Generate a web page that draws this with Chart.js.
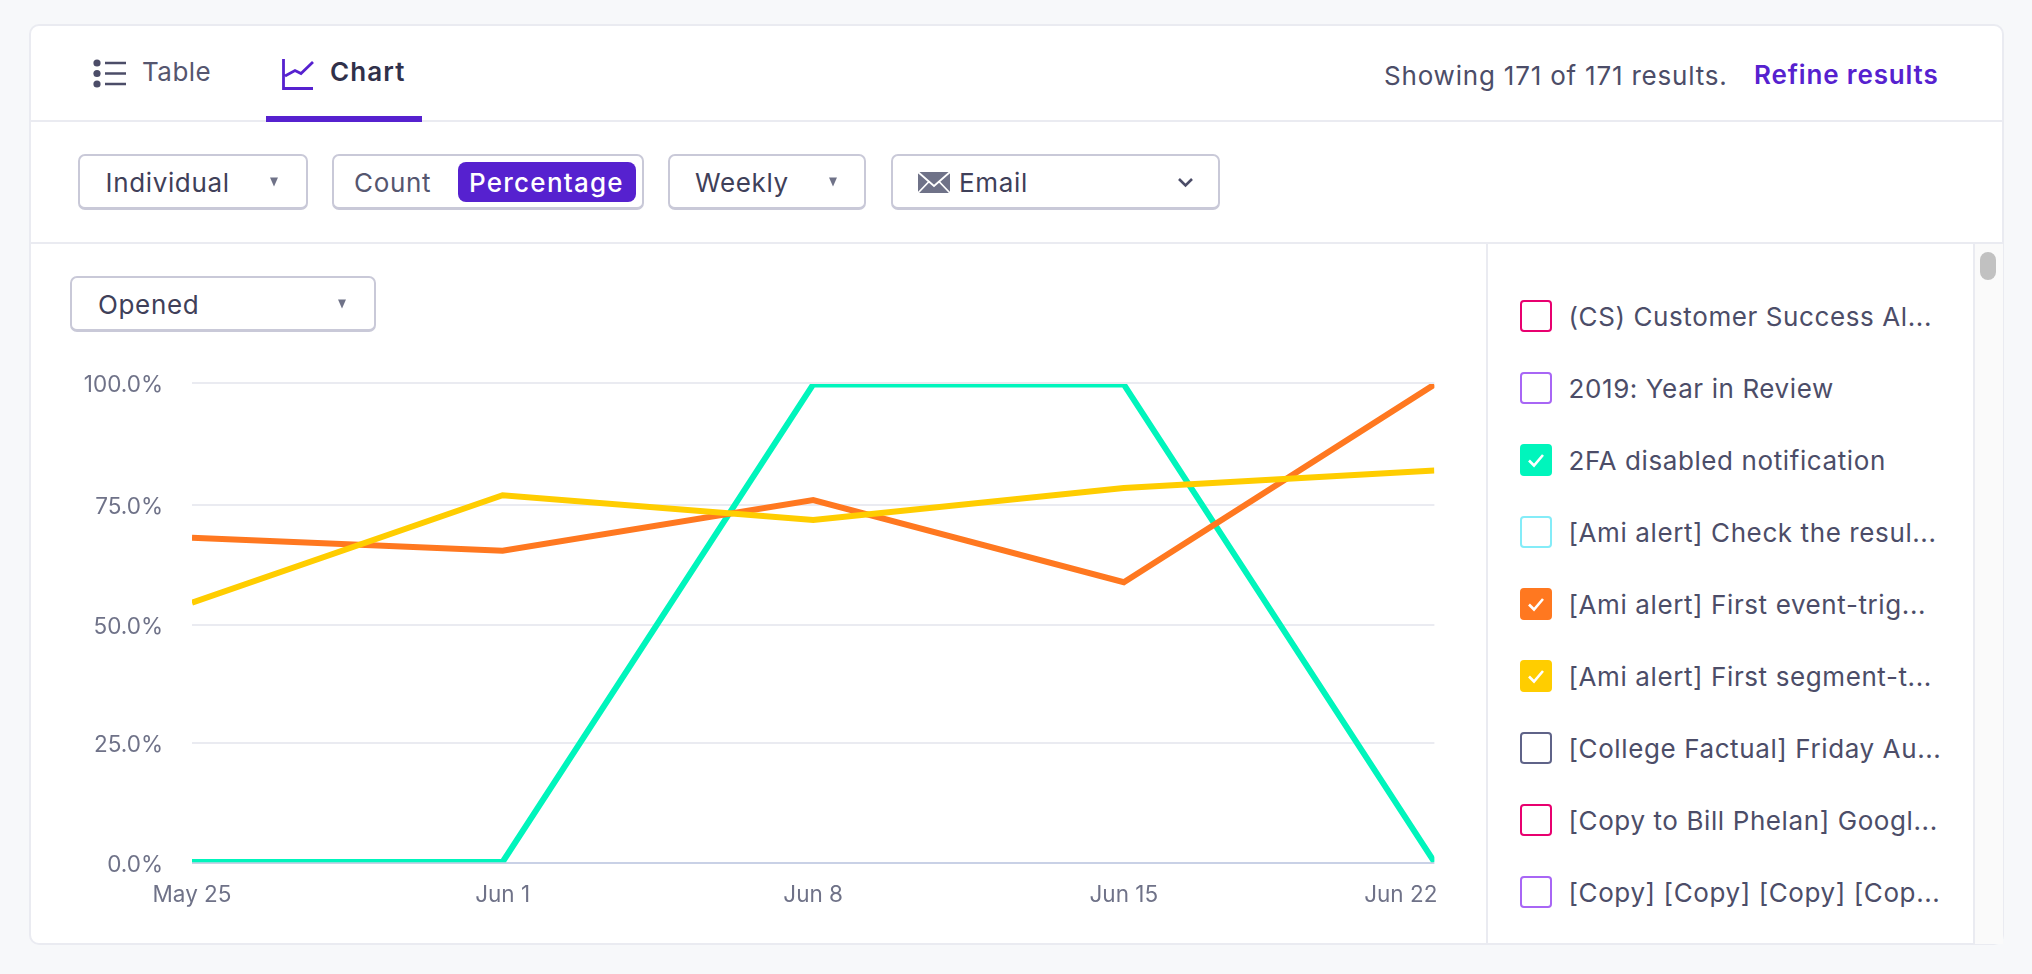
<!DOCTYPE html>
<html><head><meta charset="utf-8">
<script src="https://cdn.jsdelivr.net/npm/chart.js@4"></script>
<style>
html,body{margin:0;padding:0;width:2032px;height:974px;background:#f7f8fa;overflow:hidden;font-family:Inter,"Noto Sans",sans-serif}
.abs{position:absolute;box-sizing:border-box}
.t{position:absolute;white-space:nowrap;transform:translateY(-50%);line-height:1;color:#4c4d68;font-size:26px;letter-spacing:.65px}
.btn{position:absolute;box-sizing:border-box;border:2px solid #c9c9d8;border-bottom-width:3px;border-radius:7px;background:#fff}
.arrow{position:absolute;transform:translate(-50%,-50%);width:0;height:0;border-left:4.5px solid transparent;border-right:4.5px solid transparent;border-top:9px solid #6f7288}
.box{position:absolute;box-sizing:border-box;width:32px;height:32px;border-radius:4px;border:2.5px solid;left:1520px}
svg{position:absolute;overflow:visible}
</style></head><body>
<div class="abs" style="left:29px;top:24px;width:1975px;height:921px;background:#fff;border:2px solid #eaebf1;border-radius:10px"></div>
<div class="abs" style="left:30px;top:120px;width:1973px;height:2px;background:#eaebf1"></div>
<div class="abs" style="left:30px;top:242px;width:1973px;height:2px;background:#eaebf1"></div>
<div class="abs" style="left:266px;top:116px;width:156px;height:6px;background:#5621cf"></div>
<div class="abs" style="left:1486px;top:244px;width:2px;height:700px;background:#eaebf1"></div>
<div class="abs" style="left:1973px;top:244px;width:30px;height:700px;background:#fafafa;border-left:2px solid #eaebf1"></div>
<div class="abs" style="left:1980px;top:252px;width:16px;height:28px;background:#c1c1c1;border-radius:8px"></div>

<div class="t" style="left:142px;top:72px;color:#55566f;letter-spacing:.45px">Table</div>
<div class="t" style="left:330px;top:72px;color:#30304a;font-weight:600;letter-spacing:1.1px">Chart</div>
<div class="t" style="left:1384px;top:75.500px;letter-spacing:.8px">Showing 171 of 171 results.</div>
<div class="t" style="left:1754px;top:74.500px;color:#5621cf;font-weight:600;letter-spacing:.85px">Refine results</div>

<div class="btn" style="left:78px;top:154px;width:230px;height:56px"></div>
<div class="t" style="left:105.500px;top:183px;color:#3f4059">Individual</div>
<div class="arrow" style="left:274px;top:182px"></div>
<div class="btn" style="left:332px;top:154px;width:312px;height:56px"></div>
<div class="t" style="left:354px;top:183px;color:#55566f">Count</div>
<div class="abs" style="left:458px;top:162px;width:178px;height:40px;background:#5621cf;border-radius:8px"></div>
<div class="t" style="left:469px;top:183px;color:#fff;font-weight:500;letter-spacing:1.25px">Percentage</div>
<div class="btn" style="left:668px;top:154px;width:198px;height:56px"></div>
<div class="t" style="left:695px;top:183px;color:#3f4059">Weekly</div>
<div class="arrow" style="left:833px;top:182px"></div>
<div class="btn" style="left:891px;top:154px;width:329px;height:56px"></div>
<div class="t" style="left:959px;top:183px;color:#3f4059">Email</div>
<div class="btn" style="left:70px;top:276px;width:306px;height:56px"></div>
<div class="t" style="left:98px;top:305px;color:#3f4059">Opened</div>
<div class="arrow" style="left:342px;top:304px"></div>

<svg style="left:0;top:0" width="2032" height="974">
 <g fill="#4c4d68"><circle cx="97" cy="63" r="3.6"/><circle cx="97" cy="73.500" r="3.6"/><circle cx="97" cy="84" r="3.6"/></g>
 <g stroke="#4c4d68" stroke-width="2.6"><path d="M105 63H126M105 73.500H126M105 84H126"/></g>
 <path d="M283.500 59V88.500H313M285 76L295 70.500L301 73.500L313 62" fill="none" stroke="#5621cf" stroke-width="2.8"/>
 <rect x="918" y="172" width="32" height="21" rx="1.500" fill="#6f7288"/>
 <path d="M918 172L934 186L950 172M918 193L929 181.500M950 193L939 181.500" fill="none" stroke="#fff" stroke-width="1.800"/>
 <path d="M1179 179L1185.500 185.500L1192 179" fill="none" stroke="#4c4d68" stroke-width="2.600"/>
</svg>

<div class="abs" style="left:60px;top:340px;width:1422px;height:583px"><canvas id="c" width="1422" height="583" style="display:block;width:1422px;height:583px"></canvas></div>
<div id="legend"></div>

<script>
const categories = ["May 25", "Jun 1", "Jun 8", "Jun 15", "Jun 22"];
const twoFaDisabled = [0, 0, 100, 100, 0];
const firstEventTrig = [67.9, 65.2, 75.8, 58.6, 100];
const firstSegmentT = [54.3, 76.8, 71.6, 78.3, 82];
const yTickLabels = ["0.0%", "25.0%", "50.0%", "75.0%", "100.0%"];
const yGridPositions = [0, 25, 49.5, 74.6, 100];

const legendLabels = ["(CS) Customer Success Al...", "2019: Year in Review", "2FA disabled notification", "[Ami alert] Check the resul...", "[Ami alert] First event-trig...", "[Ami alert] First segment-t...", "[College Factual] Friday Au...", "[Copy to Bill Phelan] Googl...", "[Copy] [Copy] [Copy] [Cop..."];
const legendColors = ["#e8006f", "#a866f5", "#00f5bc", "#84ecf8", "#ff7820", "#ffcd00", "#5f6388", "#e8006f", "#a866f5"];
const legendChecked = [false, false, true, false, true, true, false, false, false];

const legend = document.getElementById('legend');
legendLabels.forEach((label, i) => {
  const y = 316 + i * 72;
  const box = document.createElement('div');
  box.className = 'box';
  box.style.top = (y - 16) + 'px';
  box.style.borderColor = legendColors[i];
  box.style.background = legendChecked[i] ? legendColors[i] : '#fff';
  if (legendChecked[i]) {
    box.innerHTML = '<svg style="left:-2.5px;top:-2.5px" width="32" height="32"><path d="M9 16.500L14 21.500L23 11" fill="none" stroke="#fff" stroke-width="2.600"/></svg>';
  }
  legend.appendChild(box);
  const t = document.createElement('div');
  t.className = 't';
  t.style.left = '1568.5px';
  t.style.top = (y + 1) + 'px';
  t.style.letterSpacing = '.6px';
  t.textContent = label;
  legend.appendChild(t);
});

const lastTickRightAlign = {
  id: 'lastTickRightAlign',
  beforeDraw(chart) {
    const x = chart.scales.x;
    const items = x.getLabelItems();
    const last = items[items.length - 1];
    last.options.textAlign = 'right';
    last.options.translation[0] = x.right + 3;
  }
};

Chart.defaults.font.family = 'Inter';
new Chart(document.getElementById('c'), {
  type: 'line',
  plugins: [lastTickRightAlign],
  data: {
    labels: categories,
    datasets: [
      {label: "[Ami alert] First segment-t...", data: firstSegmentT, borderColor: "#ffcd00", order: 0},
      {label: "[Ami alert] First event-trig...", data: firstEventTrig, borderColor: "#ff7820", order: 1},
      {label: "2FA disabled notification", data: twoFaDisabled, borderColor: "#00f5bc", order: 2}
    ].map(d => ({...d, yAxisID: 'yLine', borderWidth: 6, pointRadius: 0, tension: 0, fill: false,
                 clip: {left: 0, right: 0, top: -1, bottom: -0.7}}))
  },
  options: {
    responsive: false, animation: false, devicePixelRatio: 1,
    layout: {padding: {left: 0, right: 46, top: 43, bottom: 0}},
    plugins: {legend: {display: false}, tooltip: {enabled: false}},
    scales: {
      x: {
        type: 'category', offset: false,
        grid: {display: false}, border: {display: false},
        ticks: {color: '#6f7288', font: {size: 22.5}, maxRotation: 0, autoSkip: false, padding: 11},
        afterFit: s => { s.height = 60; }
      },
      y: {
        position: 'left', min: 0, max: 100,
        afterBuildTicks: s => { s.ticks = yGridPositions.map(v => ({value: v})); },
        grid: {color: c => c.tick.value === 0 ? '#c9d1e6' : '#eaebf1', lineWidth: 2, drawTicks: false},
        border: {display: false},
        ticks: {color: '#6f7288', font: {size: 22.5}, padding: 29, labelOffset: 2, callback: (v, i) => yTickLabels[i]},
        afterFit: s => { s.width = 132; }
      },
      yLine: {display: false, position: 'left', min: -0.21, max: 100.31}
    }
  }
});
</script>
</body></html>
